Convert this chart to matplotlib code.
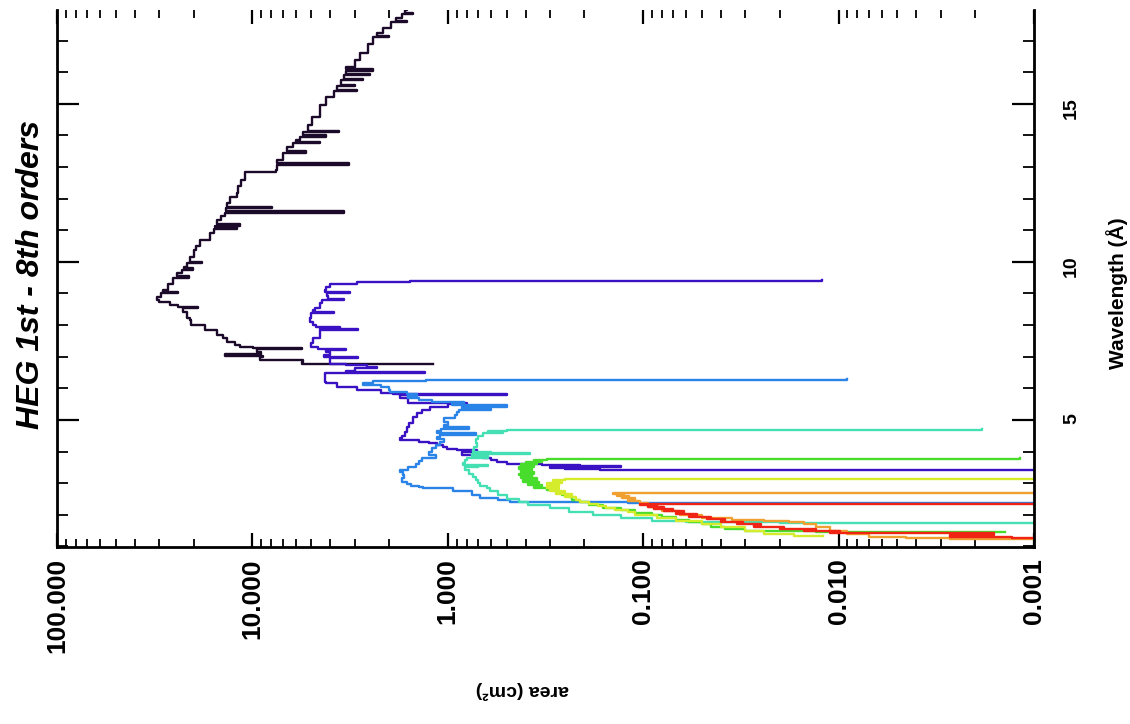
import numpy as np
import matplotlib
matplotlib.use('Agg')
import matplotlib.pyplot as plt
from matplotlib.ticker import FixedLocator, FixedFormatter, LogLocator, MultipleLocator, NullFormatter

plt.rcParams['font.family'] = ['Liberation Sans', 'DejaVu Sans']
plt.rcParams['font.weight'] = 'bold'

# HEG effective area per diffraction order: wavelength (A) and area (cm^2)
wave_o1 = [18.30, 17.97, 17.88, 17.85, 17.72, 17.62, 17.58, 17.40, 17.25, 17.15,
           17.10, 16.90, 16.61, 16.40, 16.17, 16.10, 16.05, 15.95, 15.90, 15.80,
           15.75, 15.60, 15.55, 15.45, 15.40, 15.22, 14.97, 14.59, 14.34, 14.15,
           14.10, 14.00, 13.95, 13.86, 13.80, 13.75, 13.64, 13.50, 13.45, 13.23,
           13.13, 13.08, 12.90, 12.85, 12.60, 12.40, 12.18, 12.05, 11.87, 11.74,
           11.70, 11.60, 11.55, 11.45, 11.33, 11.20, 11.15, 11.10, 11.05, 10.92,
           10.70, 10.50, 10.38, 10.16, 10.00, 9.95, 9.84, 9.80, 9.75, 9.65,
           9.55, 9.50, 9.30, 9.11, 9.05, 9.00, 8.90, 8.80, 8.73, 8.64,
           8.58, 8.54, 8.40, 8.23, 8.16, 8.00, 7.85, 7.70, 7.59, 7.45,
           7.37, 7.31, 7.28, 7.25, 7.15, 7.08, 7.03, 6.99, 6.90, 6.82, 6.78]
area_o1 = [1.62, 1.66, 1.51, 1.72, 1.85, 1.62, 1.95, 2.15, 2.30, 2.00,
           2.40, 2.55, 2.80, 3.00, 3.30, 2.40, 3.30, 2.50, 3.40, 2.70,
           3.50, 3.00, 3.70, 2.90, 3.80, 4.20, 4.50, 4.95, 5.20, 3.60,
           5.50, 4.20, 5.70, 6.00, 4.50, 6.20, 6.65, 5.30, 7.00, 7.50,
           3.20, 7.50, 7.60, 10.9, 11.4, 11.8, 12.0, 13.0, 13.5, 7.9,
           13.6, 3.4, 13.8, 14.5, 15.2, 11.6, 15.5, 12.0, 15.8, 16.5,
           18.5, 19.5, 19.8, 20.9, 18.1, 21.5, 22.5, 20.1, 23.0, 24.3,
           21.0, 25.5, 27.0, 28.7, 24.0, 29.5, 30.8, 30.0, 26.4, 24.0,
           19.0, 22.6, 21.5, 20.9, 20.5, 17.5, 15.2, 14.2, 13.5, 12.3,
           11.6, 9.9, 5.6, 9.5, 9.0, 13.8, 8.8, 9.1, 5.5, 5.6, 1.19]

wave_o2 = [9.43, 9.40, 9.37, 9.30, 9.20, 9.11, 9.05, 9.00, 8.92, 8.83,
           8.78, 8.70, 8.55, 8.48, 8.42, 8.38, 8.23, 8.10, 8.01, 7.94,
           7.90, 7.88, 7.84, 7.78, 7.59, 7.44, 7.31, 7.25, 7.20, 7.15,
           7.06, 6.99, 6.95, 6.90, 6.77, 6.74, 6.68, 6.65, 6.55, 6.52,
           6.49, 6.20, 6.17, 6.04, 5.95, 5.85, 5.82, 5.79, 5.70, 5.60,
           5.54, 5.50, 5.41, 5.32, 5.22, 5.10, 5.00, 4.90, 4.78, 4.62,
           4.50, 4.43, 4.37, 4.30, 4.27, 4.20, 4.15, 4.08, 4.05, 4.00,
           3.90, 3.80, 3.73, 3.67, 3.62, 3.60, 3.58, 3.54, 3.51, 3.48,
           3.45, 3.42]
area_o2 = [0.0122, 1.56, 2.90, 4.00, 4.20, 4.25, 3.16, 4.15, 4.10, 3.40,
           4.40, 4.50, 4.80, 4.90, 3.80, 5.00, 5.07, 4.90, 4.70, 3.56,
           4.50, 2.88, 4.50, 4.50, 4.90, 5.00, 4.60, 3.30, 4.20, 4.00,
           4.30, 2.88, 4.00, 4.00, 3.30, 2.60, 2.30, 3.00, 3.30, 1.31,
           4.25, 4.20, 3.70, 2.90, 2.20, 1.90, 0.50, 1.76, 1.60, 1.60,
           0.80, 1.00, 1.23, 1.35, 1.44, 1.50, 1.51, 1.58, 1.62, 1.66,
           1.72, 1.76, 1.40, 1.25, 1.14, 1.06, 1.01, 0.90, 0.71, 0.85,
           0.66, 0.60, 0.56, 0.50, 0.46, 0.33, 0.21, 0.13, 0.30, 0.25,
           0.166, 0.0009]

wave_o3 = [6.30, 6.27, 6.22, 6.17, 6.11, 6.04, 5.95, 5.89, 5.82, 5.76,
           5.70, 5.63, 5.57, 5.50, 5.47, 5.41, 5.35, 5.32, 5.25, 5.15,
           5.06, 4.95, 4.85, 4.78, 4.72, 4.65, 4.59, 4.52, 4.46, 4.40,
           4.30, 4.21, 4.10, 4.00, 3.90, 3.80, 3.70, 3.60, 3.50, 3.42,
           3.35, 3.25, 3.15, 3.05, 2.98, 2.92, 2.88, 2.85, 2.75, 2.63,
           2.52, 2.47, 2.41, 2.39, 2.38]
area_o3 = [0.0090, 1.29, 2.40, 2.70, 2.20, 2.00, 1.97, 1.62, 1.44, 1.60,
           1.40, 1.20, 0.83, 0.95, 0.50, 0.85, 0.60, 0.88, 0.90, 0.92,
           1.05, 1.00, 1.05, 0.78, 1.08, 1.13, 0.72, 1.10, 1.14, 1.05,
           1.10, 1.15, 1.20, 1.25, 1.15, 1.35, 1.40, 1.45, 1.60, 1.75,
           1.70, 1.68, 1.72, 1.62, 1.55, 1.40, 1.34, 0.94, 0.75, 0.68,
           0.55, 0.48, 0.40, 0.12, 0.0009]

wave_o4 = [4.71, 4.68, 4.65, 4.62, 4.59, 4.50, 4.40, 4.27, 4.15, 4.05,
           3.98, 3.96, 3.92, 3.85, 3.80, 3.72, 3.64, 3.58, 3.55, 3.50,
           3.40, 3.30, 3.20, 3.10, 3.01, 2.90, 2.85, 2.75, 2.63, 2.50,
           2.40, 2.31, 2.20, 2.10, 2.00, 1.90, 1.80, 1.77, 1.74]
area_o4 = [0.00185, 0.50, 0.62, 0.52, 0.66, 0.70, 0.72, 0.71, 0.73, 0.74,
           0.60, 0.38, 0.75, 0.62, 0.80, 0.82, 0.84, 0.62, 0.70, 0.82,
           0.78, 0.74, 0.72, 0.70, 0.68, 0.63, 0.61, 0.55, 0.50, 0.43,
           0.39, 0.30, 0.24, 0.18, 0.13, 0.09, 0.06, 0.02, 0.0009]

wave_o5 = [3.78, 3.76, 3.73, 3.70, 3.67, 3.63, 3.60, 3.55, 3.50, 3.45,
           3.40, 3.35, 3.30, 3.25, 3.20, 3.15, 3.10, 3.05, 3.00, 2.94,
           2.88, 2.85, 2.78, 2.70, 2.62, 2.56, 2.47, 2.40, 2.31, 2.22,
           2.15, 2.06, 2.00, 1.93, 1.84, 1.77, 1.70, 1.62, 1.55, 1.49, 1.46]
area_o5 = [0.00118, 0.31, 0.36, 0.33, 0.40, 0.35, 0.42, 0.36, 0.43, 0.37,
           0.42, 0.36, 0.43, 0.37, 0.42, 0.35, 0.41, 0.34, 0.39, 0.33,
           0.36, 0.31, 0.28, 0.26, 0.24, 0.23, 0.21, 0.19, 0.16, 0.13,
           0.11, 0.09, 0.08, 0.068, 0.058, 0.05, 0.045, 0.038, 0.03, 0.013, 0.0014]

wave_o6 = [3.16, 3.13, 3.10, 3.05, 3.00, 2.95, 2.90, 2.85, 2.80, 2.75,
           2.70, 2.65, 2.60, 2.55, 2.47, 2.40, 2.35, 2.28, 2.22, 2.15,
           2.10, 2.00, 1.90, 1.80, 1.70, 1.60, 1.50, 1.40, 1.33]
area_o6 = [0.0009, 0.25, 0.29, 0.26, 0.31, 0.27, 0.31, 0.27, 0.30, 0.25,
           0.28, 0.23, 0.25, 0.22, 0.21, 0.19, 0.17, 0.155, 0.14, 0.12,
           0.11, 0.085, 0.068, 0.05, 0.04, 0.03, 0.024, 0.017, 0.012]

wave_o7 = [2.72, 2.69, 2.66, 2.63, 2.60, 2.56, 2.52, 2.48, 2.45, 2.37,
           2.25, 2.12, 2.00, 1.90, 1.84, 1.80, 1.77, 1.70, 1.60, 1.50,
           1.40, 1.30, 1.26, 1.23]
area_o7 = [0.0009, 0.143, 0.125, 0.136, 0.118, 0.128, 0.11, 0.12, 0.104, 0.095,
           0.08, 0.065, 0.05, 0.035, 0.024, 0.018, 0.015, 0.013, 0.011, 0.009,
           0.007, 0.0045, 0.0027, 0.0009]

wave_o8 = [2.38, 2.35, 2.32, 2.28, 2.25, 2.22, 2.18, 2.15, 2.11, 2.06,
           2.02, 1.97, 1.93, 1.89, 1.85, 1.81, 1.77, 1.73, 1.70, 1.66,
           1.62, 1.58, 1.55, 1.51, 1.47, 1.44, 1.42, 1.41, 1.36, 1.30, 1.25]
area_o8 = [0.0009, 0.104, 0.085, 0.095, 0.078, 0.088, 0.07, 0.078, 0.062, 0.068,
           0.053, 0.058, 0.045, 0.047, 0.038, 0.04, 0.031, 0.033, 0.025, 0.027,
           0.019, 0.02, 0.013, 0.015, 0.0098, 0.011, 0.0067, 0.0016, 0.0027, 0.0013,
           0.0009]

waves = [wave_o1, wave_o2, wave_o3, wave_o4, wave_o5, wave_o6, wave_o7, wave_o8]
areas = [area_o1, area_o2, area_o3, area_o4, area_o5, area_o6, area_o7, area_o8]
order_colors = ['#1c0a2a', '#3a12c4', '#2a84e8', '#44e0b4',
                '#48dc2c', '#d4ec2c', '#f0a030', '#f02414']

area_ticks = [100, 10, 1, 0.1, 0.01, 0.001]
area_tick_labels = ['100.000', '10.000', '1.000', '0.100', '0.010', '0.001']
wave_ticks = [5, 10, 15]

fig = plt.figure(figsize=(11.3, 7.24), dpi=100)
ax = fig.add_axes([0.0504, 0.2445, 0.8646, 0.7417])

# each order is a histogram, so draw it stepped along wavelength
for w, a, c in zip(waves, areas, order_colors):
    ax.plot(a, w, color=c, lw=1.7, drawstyle='steps-pre')

ax.set_xscale('log')
ax.set_xlim(100, 0.001)
ax.set_ylim(0.98, 17.97)

ax.xaxis.set_major_locator(FixedLocator(area_ticks))
ax.xaxis.set_major_formatter(FixedFormatter(area_tick_labels))
ax.xaxis.set_minor_locator(LogLocator(base=10, subs=np.arange(2, 10)))
ax.xaxis.set_minor_formatter(NullFormatter())
ax.yaxis.set_major_locator(FixedLocator(wave_ticks))
ax.yaxis.set_minor_locator(MultipleLocator(1))

ax.tick_params(axis='x', which='major', direction='in', length=10, width=1.6,
               top=True, bottom=True, labelsize=19, labelrotation=90, pad=8)
ax.tick_params(axis='x', which='minor', direction='in', length=6, width=1.3,
               top=True, bottom=True)
ax.tick_params(axis='y', which='major', direction='in', length=16, width=1.6,
               left=True, right=True, labelleft=False, labelright=True,
               labelsize=14, labelrotation=90, pad=21)
ax.tick_params(axis='y', which='minor', direction='in', length=8, width=1.3,
               left=True, right=True)

for side in ['left', 'right', 'bottom']:
    ax.spines[side].set_linewidth(2)
ax.spines['top'].set_visible(False)

fig.text(31 / 1130, 1 - 275 / 724, 'HEG 1st - 8th orders', rotation=90,
         fontsize=23, fontweight='bold', style='italic', ha='center', va='center')
fig.text(1117 / 1130, 1 - 293 / 724, 'Wavelength (Å)', rotation=90,
         fontsize=15, fontweight='bold', ha='center', va='center')
fig.text(522 / 1130, 1 - 690 / 724, 'area (cm²)', rotation=180,
         fontsize=14, fontweight='bold', ha='center', va='center')

fig.savefig('out.png', dpi=100, facecolor='white')
